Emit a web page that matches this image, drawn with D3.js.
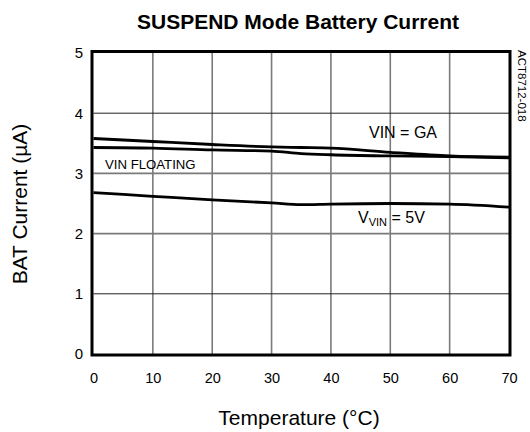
<!DOCTYPE html>
<html><head><meta charset="utf-8">
<script src="https://cdn.jsdelivr.net/npm/d3@7"></script>
<style>body{margin:0;background:#fff}text{font-family:Arial,"Liberation Sans",sans-serif}</style>
</head><body><svg id="c" width="530" height="432"></svg>
<script>
const temps = [0,10,20,30,35,40,50,60,70];
const vinGA = [3.58,3.53,3.48,3.44,3.43,3.42,3.35,3.29,3.27];
const vinFloating = [3.43,3.42,3.39,3.37,3.33,3.31,3.29,3.28,3.26];
const vin5V = [2.68,2.62,2.56,2.51,2.48,2.49,2.50,2.49,2.44];
const xTicks = [0,10,20,30,40,50,60,70];
const yTicks = [0,1,2,3,4,5];

const svg = d3.select("#c");
const x = d3.scaleLinear().domain([0,70]).range([93.5,509]);
const y = d3.scaleLinear().domain([0,5]).range([354,53]);
const FF = "Arial, 'Liberation Sans', sans-serif";

// grid
svg.append("g").selectAll("line").data(xTicks.slice(1,-1)).join("line")
  .attr("x1",d=>x(d)).attr("x2",d=>x(d)).attr("y1",y(5)).attr("y2",y(0))
  .attr("stroke","#7a7a7a").attr("stroke-width",1.6);
svg.append("g").selectAll("line").data(yTicks.slice(1,-1)).join("line")
  .attr("x1",x(0)).attr("x2",x(70)).attr("y1",d=>y(d)).attr("y2",d=>y(d))
  .attr("stroke",d=>d===1||d===4?"#222":"#7a7a7a").attr("stroke-width",d=>d===1||d===4?1:1.6);

// frame
svg.append("rect").attr("x",92).attr("y",51.5).attr("width",510-92).attr("height",355-51.5)
  .attr("fill","none").attr("stroke","#000").attr("stroke-width",3);

// axes labels
const xa = svg.append("g").attr("transform",`translate(0,${y(0)})`)
  .call(d3.axisBottom(x).tickValues(xTicks).tickSize(0).tickPadding(19).tickFormat(d3.format("d")));
xa.select(".domain").remove();
xa.selectAll("text").attr("font-size",14.5).attr("fill","#000").style("font-family",FF);
const ya = svg.append("g").attr("transform",`translate(92,0)`)
  .call(d3.axisLeft(y).tickValues(yTicks).tickSize(0).tickPadding(9).tickFormat(d3.format("d")));
ya.select(".domain").remove();
ya.selectAll("text").attr("font-size",15).attr("fill","#000").style("font-family",FF);

// lines
const line = vals => d3.line().x((d,i)=>x(temps[i])).y(d=>y(d)).curve(d3.curveMonotoneX)(vals);
[vinGA, vinFloating, vin5V].forEach(v=>{
  svg.append("path").attr("d",line(v)).attr("fill","none").attr("stroke","#000").attr("stroke-width",2.8);
});

// annotations
svg.append("text").attr("x",369).attr("y",138).attr("font-size",16).text("VIN = GA");
svg.append("text").attr("x",105).attr("y",169).attr("font-size",13.2).text("VIN FLOATING");
const t5 = svg.append("text").attr("x",358).attr("y",223).attr("font-size",16);
t5.append("tspan").text("V");
t5.append("tspan").attr("font-size",11).attr("dy",3).text("VIN");
t5.append("tspan").attr("dy",-3).text(" = 5V");

// titles
svg.append("text").attr("x",298).attr("y",29).attr("text-anchor","middle").attr("font-size",21).attr("font-weight","bold").text("SUSPEND Mode Battery Current");
svg.append("text").attr("x",299).attr("y",425).attr("text-anchor","middle").attr("font-size",21).text("Temperature (°C)");
svg.append("text").attr("transform","translate(27,204) rotate(-90)").attr("text-anchor","middle").attr("font-size",21).text("BAT Current (µA)");
svg.append("text").attr("transform","translate(518,50) rotate(90)").attr("font-size",11.5).text("ACT8712-018");
</script></body></html>
